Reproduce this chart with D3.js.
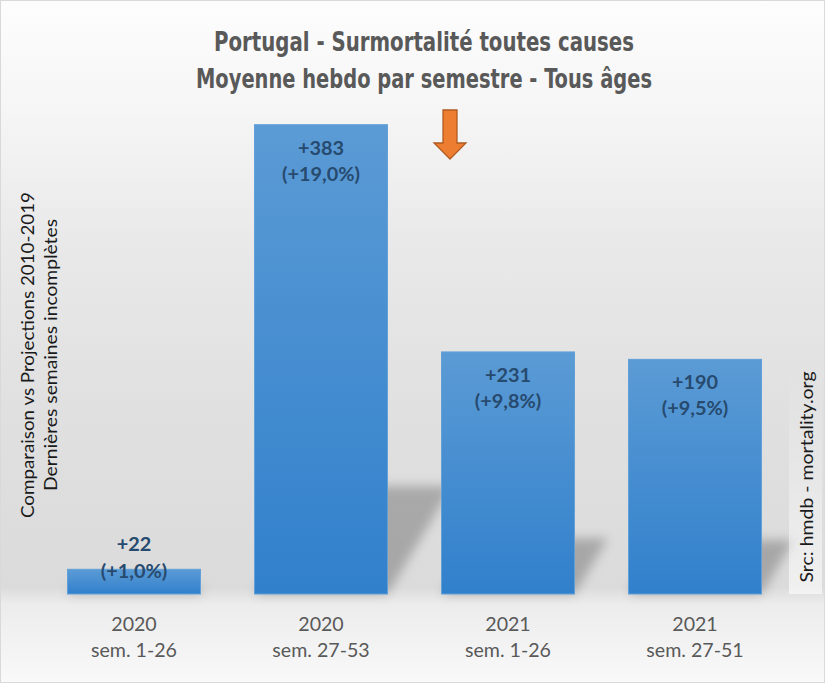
<!DOCTYPE html>
<html><head><meta charset="utf-8">
<script src="https://cdn.jsdelivr.net/npm/d3@7/dist/d3.min.js"></script>
<style>body{margin:0;background:#fff}</style>
</head><body>
<svg id="c" width="825" height="683"></svg>
<script>
// ---- data ----
const periodYears = ["2020", "2020", "2021", "2021"];
const periodWeeks = ["sem. 1-26", "sem. 27-53", "sem. 1-26", "sem. 27-51"];
const excessDeaths = [22, 383, 231, 190];
const excessPct = [1.0, 19.0, 9.8, 9.5];
const titleLines = ["Portugal - Surmortalité toutes causes", "Moyenne hebdo par semestre - Tous âges"];
const leftNote = ["Comparaison vs Projections 2010-2019", "Dernières semaines incomplètes"];
const sourceNote = "Src: hmdb - mortality.org";

const W = 825, H = 683;
const svg = d3.select("#c");
const defs = svg.append("defs");
const FONT = "Lato, 'Open Sans', 'Noto Sans', sans-serif";

function fitWidth(sel, target) {
  const w = sel.node().getComputedTextLength();
  const fs = parseFloat(sel.attr("font-size"));
  const nfs = fs * target / w;
  sel.attr("font-size", nfs);
  return nfs;
}

// background gradient
const bg = defs.append("linearGradient").attr("id", "bg").attr("x1", 0).attr("y1", 0).attr("x2", 0).attr("y2", 1);
[[0, "#fdfdfd"], [0.15, "#f6f6f6"], [0.35, "#e9e9e9"], [0.6, "#e0e0e0"], [0.86, "#dbdbdb"], [0.885, "#ececec"], [1, "#f9f9f9"]]
  .forEach(([o, c]) => bg.append("stop").attr("offset", o).attr("stop-color", c));
svg.append("rect").attr("x", 0.5).attr("y", 0.5).attr("width", W - 1).attr("height", H - 1)
  .attr("fill", "url(#bg)").attr("stroke", "#d9d9d9").attr("stroke-width", 1);

// bar gradient
const bgr = defs.append("linearGradient").attr("id", "barg").attr("x1", 0).attr("y1", 0).attr("x2", 0).attr("y2", 1);
bgr.append("stop").attr("offset", 0).attr("stop-color", "#5b9bd5");
bgr.append("stop").attr("offset", 1).attr("stop-color", "#3180cc");

// source box gradient
const sg = defs.append("linearGradient").attr("id", "srcg").attr("x1", 0).attr("y1", 0).attr("x2", 0).attr("y2", 1);
sg.append("stop").attr("offset", 0).attr("stop-color", "#ffffff").attr("stop-opacity", 0);
sg.append("stop").attr("offset", 0.45).attr("stop-color", "#ffffff").attr("stop-opacity", 0.25);
sg.append("stop").attr("offset", 1).attr("stop-color", "#ffffff").attr("stop-opacity", 0.6);

// shadow blur
defs.append("filter").attr("id", "blur").attr("x", "-30%").attr("y", "-30%").attr("width", "160%").attr("height", "160%")
  .append("feGaussianBlur").attr("stdDeviation", 5.5);

// scales
const idx = d3.range(excessPct.length);
const x = d3.scaleBand().domain(idx).range([40.5, 788.5]).paddingInner(0.289).paddingOuter(0.1445);
const y = d3.scaleLinear().domain([0, 20]).range([594, 100]);

// shadows
const shadowG = svg.append("g").attr("filter", "url(#blur)");
shadowG.selectAll("path").data(idx).join("path")
  .attr("d", i => {
    const x0 = x(i), w = x.bandwidth(), yb = y(0), h = y(0) - y(excessPct[i]);
    const sh = 0.23 * h, dx = 0.6 * sh;
    return `M${x0},${yb} L${x0 + w},${yb} L${x0 + w + dx},${yb - sh} L${x0 + dx},${yb - sh} Z`;
  })
  .attr("fill", "#000").attr("fill-opacity", 0.24);

// bars
svg.append("g").selectAll("rect").data(idx).join("rect")
  .attr("x", i => x(i)).attr("width", x.bandwidth())
  .attr("y", i => y(excessPct[i])).attr("height", i => y(0) - y(excessPct[i]))
  .attr("fill", "url(#barg)").attr("stroke", "#62a0d8").attr("stroke-width", 1);

// bar labels
const fr = d3.formatLocale({decimal: ",", thousands: " ", grouping: [3], currency: ["", "€"]});
const fmtPct = fr.format("+.1f");
const lab = svg.append("g").attr("font-family", FONT).attr("font-weight", "bold")
  .attr("fill", "#274a6f").attr("text-anchor", "middle");
const l1 = lab.selectAll("text.l1").data(idx).join("text").attr("class", "l1")
  .attr("x", i => x(i) + x.bandwidth() / 2)
  .attr("y", i => { const t = y(excessPct[i]); return (y(0) - t) > 70 ? t + 30 : t - 18; })
  .attr("font-size", 18).text(i => "+" + excessDeaths[i]);
const l2 = lab.selectAll("text.l2").data(idx).join("text").attr("class", "l2")
  .attr("x", i => x(i) + x.bandwidth() / 2)
  .attr("y", i => { const t = y(excessPct[i]); return (y(0) - t) > 70 ? t + 56 : t + 9; })
  .attr("font-size", 18).text(i => "(" + fmtPct(excessPct[i]) + "%)");
const lfs = fitWidth(l2.filter(i => i === 1), 78);
l1.attr("font-size", lfs); l2.attr("font-size", lfs);

// x axis labels
const xl = svg.append("g").attr("font-family", FONT).attr("fill", "#595959").attr("text-anchor", "middle");
const xy1 = xl.selectAll("text.a").data(idx).join("text").attr("class", "a")
  .attr("x", i => x(i) + x.bandwidth() / 2).attr("y", 631).attr("font-size", 19).text(i => periodYears[i]);
const xy2 = xl.selectAll("text.b").data(idx).join("text").attr("class", "b")
  .attr("x", i => x(i) + x.bandwidth() / 2).attr("y", 657).attr("font-size", 19).text(i => periodWeeks[i]);
const xfs = fitWidth(xy2.filter(i => i === 0), 86);
xy1.attr("font-size", xfs); xy2.attr("font-size", xfs);

// title
const tg = svg.append("g").attr("font-family", "'Liberation Sans Narrow','DejaVu Sans Condensed',sans-serif")
  .attr("font-weight", "bold").attr("fill", "#595959").attr("text-anchor", "middle");
const titleW = [420, 456], titleY = [51, 88];
titleLines.forEach((t, i) => {
  tg.append("text").attr("x", 424).attr("y", titleY[i]).attr("font-size", 26.5)
    .attr("textLength", titleW[i]).attr("lengthAdjust", "spacingAndGlyphs").text(t);
});

// arrow
svg.append("path")
  .attr("d", "M443,110 L457,110 L457,143 L466,143 L450,159 L434,143 L443,143 Z")
  .attr("fill", "#ed7d31").attr("stroke", "#b05b22").attr("stroke-width", 1.3).attr("stroke-linejoin", "miter");

// left note (rotated)
const ln = svg.append("g").attr("font-family", FONT).attr("fill", "#1a1a1a").attr("text-anchor", "middle");
const lnX = [34, 57], lnW = [326, 272];
leftNote.forEach((t, i) => {
  ln.append("text").attr("transform", `translate(${lnX[i]},355) rotate(-90)`)
    .attr("font-size", 18).attr("textLength", lnW[i]).attr("lengthAdjust", "spacingAndGlyphs").text(t);
});

// source note box + text
svg.append("rect").attr("x", 789).attr("y", 364).attr("width", 33).attr("height", 230).attr("fill", "url(#srcg)");
svg.append("text").attr("font-family", FONT).attr("fill", "#1a1a1a").attr("text-anchor", "middle")
  .attr("transform", "translate(813,477) rotate(-90)").attr("font-size", 17.5)
  .attr("textLength", 211).attr("lengthAdjust", "spacingAndGlyphs").text(sourceNote);
</script>
</body></html>
